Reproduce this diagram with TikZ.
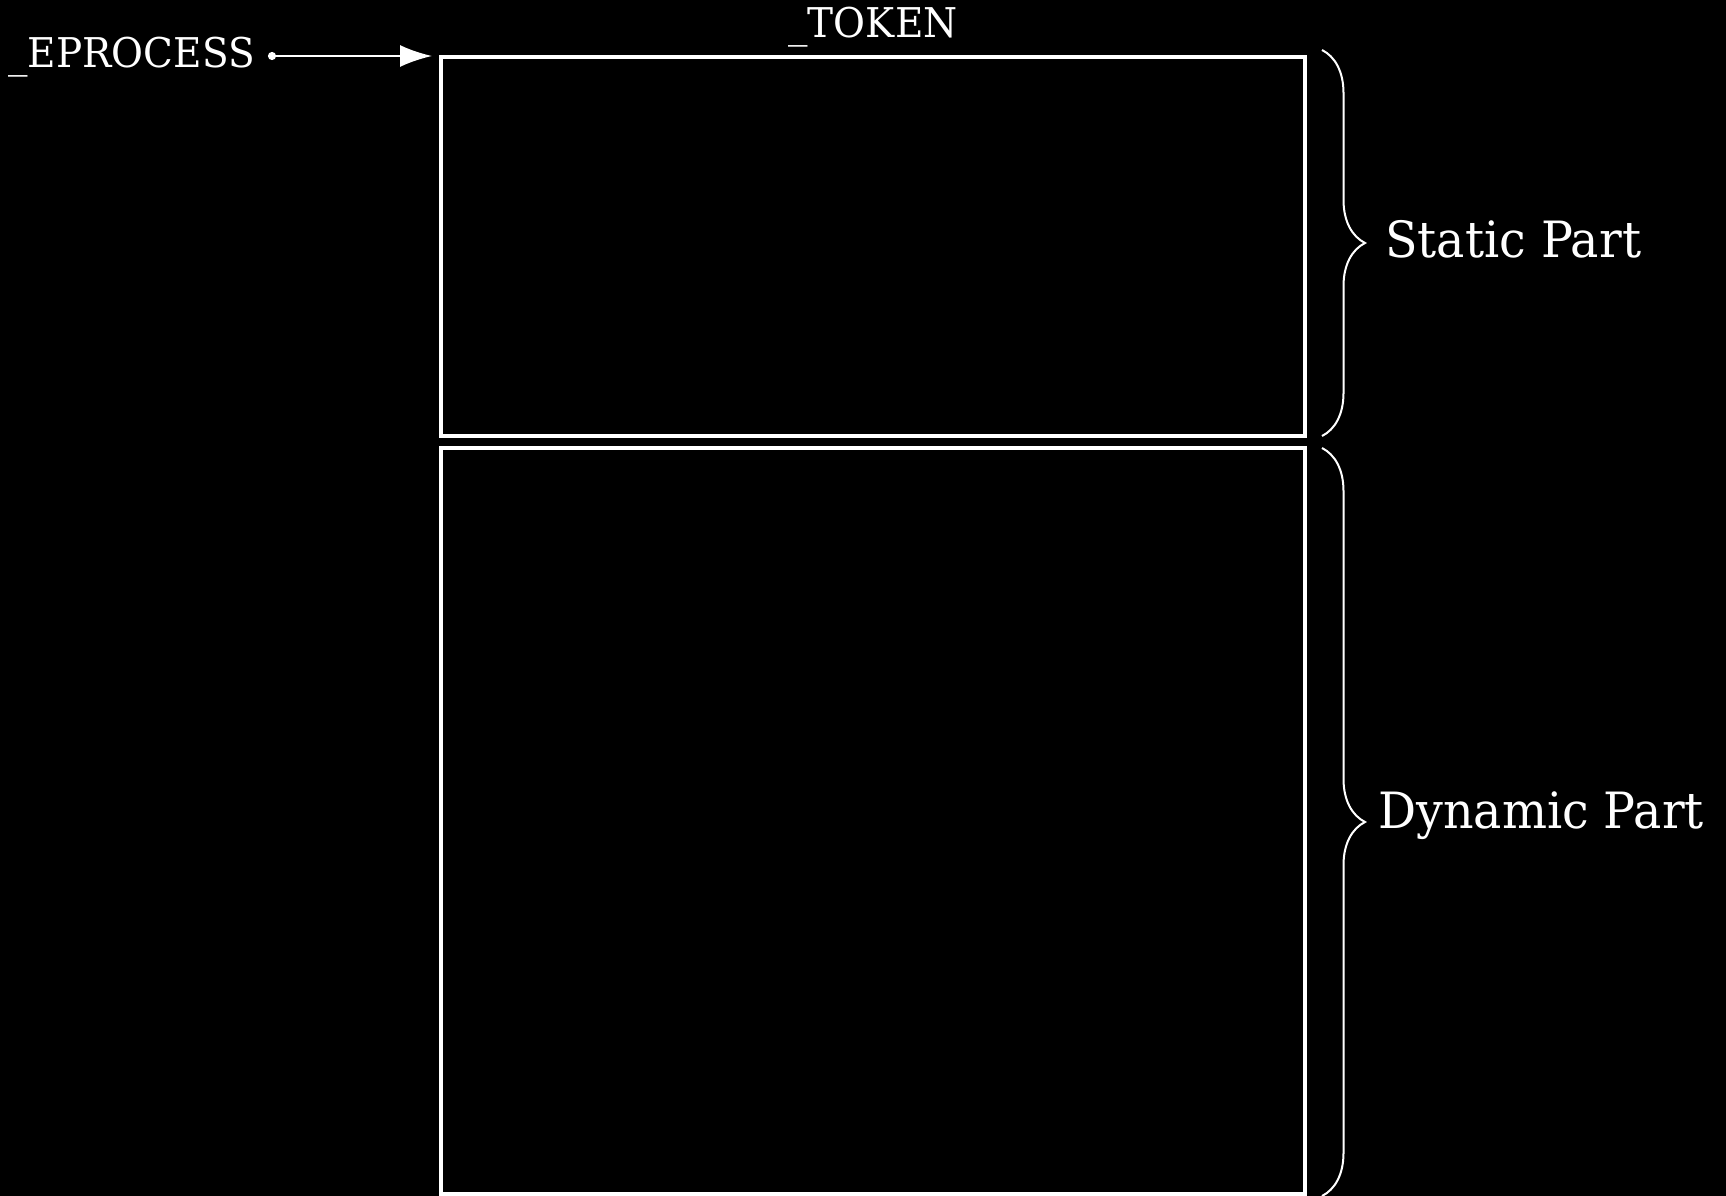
\documentclass[tikz,border=0pt]{standalone}
\usepackage{fontspec}
\setmainfont{DejaVu Serif}[FakeStretch=0.95]
\usetikzlibrary{arrows.meta,decorations.pathreplacing}
\begin{document}
\begin{tikzpicture}[x=1pt, y=-1pt, >={Latex[length=32pt,width=22pt]},
    box/.style={draw=white, line width=4pt, inner sep=0pt},
    lbl/.style={text=white, inner sep=0pt, font=\fontsize{41}{49}\selectfont},
    part/.style={text=white, inner sep=0pt, font=\fontsize{50}{60}\selectfont},
    curly/.style={draw=white, line width=2pt, decorate, decoration={brace, amplitude=43pt}}]
    \fill[black] (0,0) rectangle (1726,1196);
    \useasboundingbox (0,0) rectangle (1726,1196);

    \node[box, minimum width=864pt, minimum height=379pt] (static) at (873,246.5) {};
    \node[box, minimum width=864pt, minimum height=746pt] (dynamic) at (873,821) {};

    \node[lbl, anchor=base east] (eproc) at (255,68) {\_EPROCESS};
    \node[lbl, anchor=base] (token) at (873,38) {\_TOKEN};

    \coordinate (stop) at (1322,50);
    \coordinate (sbot) at (1322,436);
    \coordinate (dtop) at (1322,448);
    \coordinate (dbot) at (1322,1196);
    \draw[curly] (stop) -- (sbot);
    \draw[curly] (dtop) -- (dbot);
    \node[part, anchor=base west] (statlbl) at (1385,257) {Static Part};
    \node[part, anchor=base west] (dynlbl) at (1378,828) {Dynamic Part};

    \coordinate[xshift=13pt, yshift=12pt] (estart) at (eproc.base east);
    \draw[white, line width=2pt, {Circle[length=8pt]}->, shorten >=7pt] (estart) -- (estart -| static.west);
\end{tikzpicture}
\end{document}
